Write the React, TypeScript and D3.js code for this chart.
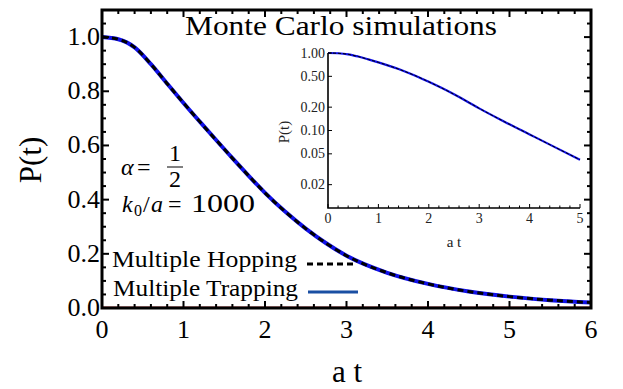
import React from 'react';
import * as d3 from 'd3';

// survival probability
const times = [0, 0.2, 0.4, 0.6, 0.8, 1.0, 1.2, 1.4, 1.6, 1.8, 2.0, 2.25, 2.5, 2.75, 3.0, 3.5, 4.0, 4.5, 5.0, 5.5, 6.0];
const hopping = [1.0, 0.992, 0.962, 0.9, 0.828, 0.757, 0.688, 0.62, 0.553, 0.488, 0.425, 0.355, 0.293, 0.239, 0.193, 0.13, 0.089, 0.061, 0.042, 0.029, 0.02];
const trapping = [1.0, 0.992, 0.962, 0.9, 0.828, 0.757, 0.688, 0.62, 0.553, 0.488, 0.425, 0.355, 0.293, 0.239, 0.193, 0.13, 0.089, 0.061, 0.042, 0.029, 0.02];

const xTicks = [0, 1, 2, 3, 4, 5, 6];
const yTicks = [0, 0.2, 0.4, 0.6, 0.8, 1.0];
const insetXTicks = [0, 1, 2, 3, 4, 5];
const insetYTicks = [1, 0.5, 0.2, 0.1, 0.05, 0.02];

const FONT = 'Liberation Serif, Tinos, Times New Roman, Times, DejaVu Serif, serif';
const BLUE = '#1010e8';
const LEGEND_BLUE = '#1a4fa3';

export default function App() {
  const x = d3.scaleLinear().domain([0, 6]).range([102, 591]);
  const y = d3.scaleLinear().domain([0, 1.1]).range([308, 10]);

  const ix = d3.scaleLinear().domain([0, 5]).range([328, 580]);
  const iy = d3.scaleLog().domain([0.01, 1]).range([208, 53]);

  const pts = (vals: number[]) => times.map((t, i) => [t, vals[i]] as [number, number]);

  const line = d3.line<[number, number]>()
    .x(d => x(d[0]))
    .y(d => y(d[1]))
    .curve(d3.curveMonotoneX);

  const insetLine = d3.line<[number, number]>()
    .x(d => ix(d[0]))
    .y(d => iy(d[1]))
    .curve(d3.curveMonotoneX);

  const minorX = d3.range(0, 6.001, 0.2);
  const minorY = d3.range(0, 1.1001, 0.05);
  const insetMinorX = d3.range(0, 5.001, 0.2);

  const [x0, x1] = x.range();
  const [y0, y1] = y.range();

  return (
    <svg width={623} height={389} style={{ position: 'absolute', left: 0, top: 0, background: '#fff', fontFamily: FONT }}>
      {/* curves */}
      <line x1={x0} x2={x1} y1={y(0) - 1} y2={y(0) - 1} stroke="#a33" strokeWidth={1} />
      <path d={line(pts(trapping)) || ''} fill="none" stroke={BLUE} strokeWidth={4} />
      <path d={line(pts(hopping)) || ''} fill="none" stroke="#000" strokeWidth={3} strokeDasharray="6,4" />

      {/* main ticks */}
      {minorX.map((v, i) => {
        const major = Math.abs(v - Math.round(v)) < 1e-6;
        const len = major ? 7 : 4;
        return (
          <g key={'mx' + i}>
            <line x1={x(v)} x2={x(v)} y1={y0} y2={y0 - len} stroke="#000" strokeWidth={2} />
            <line x1={x(v)} x2={x(v)} y1={y1} y2={y1 + len} stroke="#000" strokeWidth={2} />
          </g>
        );
      })}
      {minorY.map((v, i) => {
        const major = Math.abs(v * 5 - Math.round(v * 5)) < 1e-6;
        const len = major ? 7 : 4;
        return (
          <g key={'my' + i}>
            <line x1={x0} x2={x0 + len} y1={y(v)} y2={y(v)} stroke="#000" strokeWidth={2} />
            <line x1={x1} x2={x1 - len} y1={y(v)} y2={y(v)} stroke="#000" strokeWidth={2} />
          </g>
        );
      })}
      <rect x={x0} y={y1} width={x1 - x0} height={y0 - y1} fill="none" stroke="#000" strokeWidth={3} />

      {/* tick labels */}
      {xTicks.map(v => (
        <text key={'xl' + v} x={x(v)} y={338} fontSize={26} textAnchor="middle">{v}</text>
      ))}
      {yTicks.map(v => (
        <text key={'yl' + v} x={100} y={y(v) + 8} fontSize={26} textAnchor="end">{v.toFixed(1)}</text>
      ))}

      {/* axis labels */}
      <text x={347} y={382} fontSize={31} textAnchor="middle">a t</text>
      <text transform="translate(41,160) rotate(-90)" fontSize={31} textAnchor="middle">P(t)</text>

      {/* title */}
      <text x={185} y={35} fontSize={28} textLength={312} lengthAdjust="spacingAndGlyphs">Monte Carlo simulations</text>

      {/* parameters */}
      <g fontSize={24}>
        <text x={121} y={175} fontStyle="italic">α</text>
        <text x={137} y={175}>=</text>
        <text x={175} y={161} textAnchor="middle">1</text>
        <line x1={167} x2={183} y1={167} y2={167} stroke="#000" strokeWidth={1} />
        <text x={175} y={187} textAnchor="middle">2</text>
        <text x={122} y={212} fontStyle="italic">k</text>
        <text x={134} y={216} fontSize={16}>0</text>
        <text x={143} y={212}>/</text>
        <text x={151} y={212} fontStyle="italic">a</text>
        <text x={168} y={212}>=</text>
        <text x={191} y={212} fontSize={26} textLength={64} lengthAdjust="spacingAndGlyphs">1000</text>
      </g>

      {/* legend */}
      <text x={112} y={267} fontSize={24} textLength={185} lengthAdjust="spacingAndGlyphs">Multiple Hopping</text>
      <line x1={307} x2={357} y1={264} y2={264} stroke="#000" strokeWidth={3} strokeDasharray="6,4" />
      <text x={113} y={296} fontSize={24} textLength={185} lengthAdjust="spacingAndGlyphs">Multiple Trapping</text>
      <line x1={308} x2={358} y1={292} y2={292} stroke={LEGEND_BLUE} strokeWidth={3} />

      {/* inset */}
      <path d={insetLine(pts(trapping).filter(d => d[0] <= 5)) || ''} fill="none" stroke={BLUE} strokeWidth={2.2} />
      <path d={insetLine(pts(hopping).filter(d => d[0] <= 5)) || ''} fill="none" stroke="#000" strokeWidth={1} strokeDasharray="3,2" />
      {insetMinorX.map((v, i) => {
        const major = Math.abs(v - Math.round(v)) < 1e-6;
        return (
          <line key={'ix' + i} x1={ix(v)} x2={ix(v)} y1={208} y2={208 - (major ? 4 : 2.5)} stroke="#000" strokeWidth={1} />
        );
      })}
      {insetYTicks.map(v => (
        <line key={'iy' + v} x1={328} x2={332} y1={iy(v)} y2={iy(v)} stroke="#000" strokeWidth={1} />
      ))}
      <path d="M328,53 V208 H580" fill="none" stroke="#000" strokeWidth={1.6} />
      {insetXTicks.map(v => (
        <text key={'ixl' + v} x={ix(v)} y={223} fontSize={14} textAnchor="middle" fill="#222">{v}</text>
      ))}
      {insetYTicks.map(v => (
        <text key={'iyl' + v} x={325} y={iy(v) + 4.5} fontSize={14} textAnchor="end" fill="#222">{v.toFixed(2)}</text>
      ))}
      <text x={454} y={247} fontSize={15} textAnchor="middle" fill="#222">a t</text>
      <text transform="translate(289,132) rotate(-90)" fontSize={15} textAnchor="middle" fill="#222">P(t)</text>
    </svg>
  );
}
